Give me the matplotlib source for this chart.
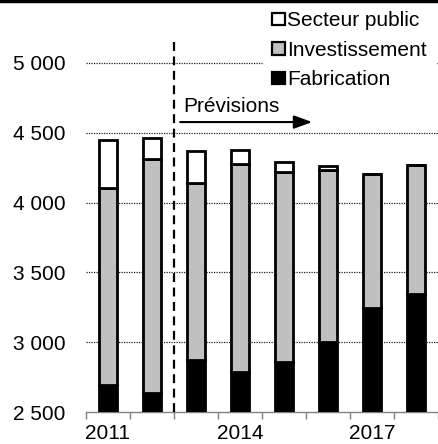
import matplotlib
matplotlib.use("Agg")
import matplotlib.pyplot as plt
from matplotlib.lines import Line2D
import numpy as np

plt.rcParams['font.family'] = ['Liberation Sans', 'DejaVu Sans']

years = ["2011", "2012", "2013", "2014", "2015", "2016", "2017", "2018"]
fabrication = [2690, 2633, 2871, 2788, 2857, 3000, 3247, 3345]
investissement_top = [4104, 4314, 4138, 4276, 4221, 4236, 4203, 4271]
total_top = [4450, 4460, 4368, 4378, 4293, 4261, 4203, 4271]
investissement = [t - f for t, f in zip(investissement_top, fabrication)]
secteur_public = [t - i for t, i in zip(total_top, investissement_top)]
labels = ["Fabrication", "Investissement", "Secteur public"]
yticks = [2500, 3000, 3500, 4000, 4500, 5000]
ytick_labels = ["2 500", "3 000", "3 500", "4 000", "4 500", "5 000"]
xlabel_shown = {"2011", "2014", "2017"}

FS = 15

fig = plt.figure(figsize=(4.39, 4.44), dpi=100)
ax = fig.add_axes([86/439, 1 - 412/444, 352/439, 412/444])

x = np.arange(len(years))
w = 0.43
lw = 2.0
b1 = ax.bar(x, fabrication, w, color="black", edgecolor="black", linewidth=lw, zorder=3, label=labels[0])
b2 = ax.bar(x, investissement, w, bottom=fabrication, color="#C0C0C0", edgecolor="black", linewidth=lw, zorder=3, label=labels[1])
b3 = ax.bar(x, secteur_public, w, bottom=investissement_top, color="white", edgecolor="black", linewidth=lw, zorder=3, label=labels[2])

ax.set_xlim(-0.5, len(years) - 0.5)
ax.set_ylim(2500, 5450)

for yv in yticks[1:]:
    ax.axhline(yv, color="#202020", linestyle=(0, (1, 1)), linewidth=0.9, zorder=1)

ax.set_yticks(yticks)
ax.set_yticklabels(ytick_labels, fontsize=FS)
ax.tick_params(axis="y", length=0, pad=15)

ax.set_xticks(x)
ax.set_xticklabels([y if y in xlabel_shown else "" for y in years], fontsize=FS)
ax.tick_params(axis="x", which="major", length=0, pad=8.5)
ax.set_xticks(np.arange(-0.5, len(years), 1.0), minor=True)
ax.tick_params(axis="x", which="minor", length=5, width=1, color="#808080", direction="out")

for s in ["left", "right", "top"]:
    ax.spines[s].set_visible(False)
ax.spines["bottom"].set_color("#808080")
ax.spines["bottom"].set_linewidth(1)

ax.plot([1.5, 1.5], [2500, 5150], color="black", linestyle=(0, (4, 2.5)), linewidth=1.6, zorder=4, clip_on=False)

ax.annotate("", xy=(4.64, 4576), xytext=(1.64, 4576),
            arrowprops=dict(arrowstyle="-|>,head_length=1.1,head_width=0.4", color="black", lw=1.5, shrinkA=0, shrinkB=0), zorder=5)
ax.text(1.70, 4647, "Prévisions", fontsize=FS, ha="left", va="baseline", zorder=5)

handles = [b3, b2, b1]
leg = ax.legend(handles, [labels[2], labels[1], labels[0]], loc="upper right",
                bbox_to_anchor=(1.0, 1.0), fontsize=FS, frameon=True, fancybox=False,
                handlelength=0.62, handleheight=0.55, handletextpad=0.1, labelspacing=0.5,
                borderaxespad=0.1, borderpad=0.45)
leg.get_frame().set_edgecolor("white")
leg.get_frame().set_facecolor("white")
leg.get_frame().set_alpha(1)
leg.set_zorder(6)
for p in leg.get_patches():
    p.set_linewidth(1.6)

fig.add_artist(Line2D([0, 1], [1 - 1/444, 1 - 1/444], color="black", linewidth=2.5, transform=fig.transFigure))

fig.savefig("out.png", dpi=100)
